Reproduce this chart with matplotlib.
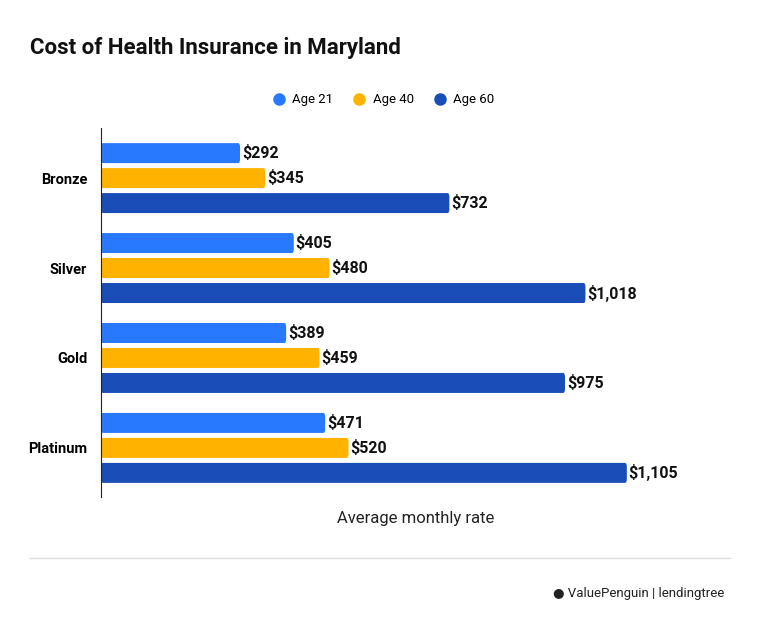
import matplotlib
matplotlib.use("Agg")
import matplotlib.pyplot as plt
from matplotlib.patches import FancyBboxPatch
import numpy as np

plt.rcParams['font.family'] = ['Roboto', 'DejaVu Sans']

categories = ["Bronze", "Silver", "Gold", "Platinum"]
series = ["Age 21", "Age 40", "Age 60"]
age21 = [292, 405, 389, 471]
age40 = [345, 480, 459, 520]
age60 = [732, 1018, 975, 1105]
colors = ["#2979FF", "#FFB300", "#1A4DB8"]

fig = plt.figure(figsize=(7.6, 6.25), dpi=100)
ax = fig.add_axes([0.133, 0.205, 0.827, 0.59])

n = len(categories)
centers = np.arange(n) * 90 + 50
offsets = [-25, 0, 25]
bh = 20
for vals, col, off, name in zip([age21, age40, age60], colors, offsets, series):
    bars = ax.barh(centers + off, vals, height=bh, color=col, label=name)
    for b, v in zip(bars, vals):
        b.set_visible(False)
        p = FancyBboxPatch((0, b.get_y()), v, bh, boxstyle="round,pad=0,rounding_size=4",
                           fc=col, ec='none')
        ax.add_patch(p)
        ax.text(v + 4, b.get_y() + bh / 2, f"${v:,}", va='center', ha='left',
                fontsize=11.5, fontweight='bold', color='#111111')

ax.set_xlim(0, 1321)
ax.set_ylim(369, 0)
ax.set_yticks(centers)
ax.set_yticklabels(categories, fontsize=10.5, fontweight='bold')
ax.tick_params(axis='y', length=0, pad=10)
ax.set_xticks([])
for s in ['top', 'right', 'bottom']:
    ax.spines[s].set_visible(False)
ax.spines['left'].set_color('#222222')
ax.set_xlabel("Average monthly rate", fontsize=12, labelpad=10, color='#222222')

handles = [plt.Line2D([], [], marker='o', ls='', color=c, markersize=8) for c in colors]
fig.legend(handles, series, loc='center', bbox_to_anchor=(0.5, 1 - 100 / 625), ncol=3,
           frameon=False, fontsize=9.5, handletextpad=0.0, columnspacing=1.0)

fig.text(30 / 760, 1 - 48 / 625, "Cost of Health Insurance in Maryland", fontsize=16,
         fontweight='bold', va='center', ha='left', color='#111111')
fig.add_artist(plt.Line2D([30 / 760, 730 / 760], [1 - 558 / 625] * 2, color='#dddddd', lw=1))
fig.text(553 / 760, 1 - 593 / 625, "● ValuePenguin | lendingtree", fontsize=9.5,
         va='center', ha='left', color='#222222')

fig.savefig("out.png", dpi=100)
